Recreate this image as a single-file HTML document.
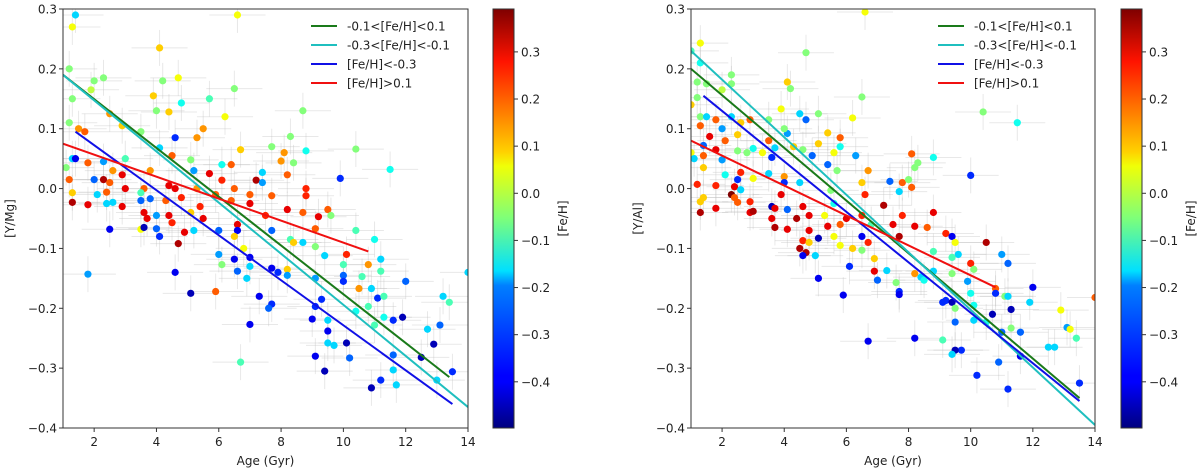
<!DOCTYPE html>
<html><head><meta charset="utf-8"><style>
html,body{margin:0;padding:0;background:#fff;}
svg{display:block;font-family:"DejaVu Sans","Liberation Sans",sans-serif;}
</style></head><body>
<svg id="fig" width="1200" height="476" viewBox="0 0 1200 476" xmlns="http://www.w3.org/2000/svg">
<defs>
<linearGradient id="jet" x1="0" y1="1" x2="0" y2="0">
<stop offset="0" stop-color="#00007f"/><stop offset="0.11" stop-color="#0000ff"/><stop offset="0.125" stop-color="#0000ff"/>
<stop offset="0.34" stop-color="#007fff"/><stop offset="0.375" stop-color="#00e0ff"/><stop offset="0.5" stop-color="#7dff7a"/>
<stop offset="0.625" stop-color="#f0ff07"/><stop offset="0.66" stop-color="#ffd000"/><stop offset="0.875" stop-color="#ff1300"/><stop offset="1" stop-color="#7f0000"/>
</linearGradient>
</defs>
</svg>
<script>
const yTicks=[0.3,0.2,0.1,0.0,-0.1,-0.2,-0.3,-0.4];
const xTicks=[2,4,6,8,10,12,14];
const cbTicks=[0.3,0.2,0.1,0.0,-0.1,-0.2,-0.3,-0.4];
const legendLabels=["-0.1<[Fe/H]<0.1","-0.3<[Fe/H]<-0.1","[Fe/H]<-0.3","[Fe/H]>0.1"];
const legendColors=["#1a7a1a","#1fbfbf","#1010e6","#f01010"];
const mgLines=[[1,0.19,13.4,-0.315],[1,0.19,14,-0.365],[1.4,0.095,13.5,-0.36],[1,0.075,10.8,-0.105]];
const alLines=[[1,0.2,13.5,-0.35],[1,0.23,14,-0.395],[1.4,0.155,13.5,-0.355],[1,0.08,10.8,-0.165]];
const mgAge=[1.4,1.3,6.6,4.1,1.2,2.0,2.3,1.9,4.2,4.7,3.9,6.5,1.3,5.7,4.8,2.5,4.0,4.4,6.2,8.7,1.5,1.2,1.7,2.9,5.5,3.5,4.6,5.3,8.3,7.7,4.1,6.7,8.1,10.4,8.8,1.3,1.4,2.3,3.0,4.5,5.1,8.0,6.4,8.4,11.5,1.1,1.8,2.6,5.2,6.1,7.4,8.2,9.9,1.2,2.0,2.3,2.9,3.8,5.7,6.1,7.2,7.4,2.5,3.0,3.6,4.4,5.3,6.5,8.8,1.3,2.1,2.4,3.5,4.6,5.9,7.0,7.7,8.8,1.3,1.8,2.4,2.6,2.9,3.5,3.8,4.3,4.8,5.4,6.4,7.0,8.2,8.7,9.5,3.6,4.0,4.4,5.1,5.5,6.6,7.5,9.2,9.6,3.7,4.5,3.5,3.6,4.0,2.5,5.2,6.0,6.6,7.7,9.1,10.4,4.1,4.9,6.5,8.3,4.7,8.7,11.0,6.8,8.4,9.1,6.0,6.5,7.0,9.4,10.1,11.2,6.1,7.7,10.0,10.8,4.6,6.6,7.0,8.2,1.8,7.9,8.2,9.1,10.0,6.9,14.0,10.0,12.0,11.2,10.6,10.5,10.9,5.9,5.1,7.3,9.3,11.1,11.3,13.2,13.4,7.7,7.6,9.1,10.8,10.4,7.0,9.0,9.5,11.3,11.6,11.9,11.0,12.7,13.1,9.5,9.5,9.7,10.1,6.7,9.1,10.2,11.6,12.5,12.9,9.4,11.6,13.5,11.2,13.0,10.9,11.7];
const mgVal=[0.29,0.27,0.29,0.235,0.2,0.18,0.185,0.165,0.18,0.185,0.155,0.167,0.15,0.15,0.143,0.125,0.13,0.128,0.12,0.13,0.1,0.11,0.095,0.105,0.1,0.095,0.085,0.085,0.087,0.07,0.068,0.065,0.06,0.066,0.063,0.05,0.05,0.045,0.05,0.055,0.048,0.046,0.04,0.043,0.032,0.035,0.043,0.03,0.03,0.04,0.027,0.023,0.017,0.015,0.015,0.015,0.023,0.03,0.025,0.014,0.014,0.01,0.01,0.0,0.0,0.005,0.0,0.0,0.0,-0.007,-0.01,-0.006,-0.007,0.0,-0.01,-0.01,-0.012,-0.012,-0.023,-0.027,-0.025,-0.023,-0.03,-0.02,-0.017,-0.02,-0.015,-0.03,-0.02,-0.025,-0.035,-0.04,-0.035,-0.04,-0.045,-0.045,-0.04,-0.05,-0.06,-0.045,-0.047,-0.045,-0.05,-0.057,-0.068,-0.065,-0.067,-0.068,-0.07,-0.07,-0.07,-0.07,-0.067,-0.07,-0.08,-0.073,-0.08,-0.085,-0.092,-0.09,-0.085,-0.1,-0.09,-0.097,-0.11,-0.118,-0.115,-0.112,-0.11,-0.118,-0.127,-0.133,-0.127,-0.127,-0.14,-0.138,-0.13,-0.135,-0.143,-0.14,-0.145,-0.15,-0.145,-0.15,-0.14,-0.155,-0.155,-0.138,-0.147,-0.167,-0.167,-0.172,-0.175,-0.18,-0.185,-0.183,-0.18,-0.18,-0.19,-0.193,-0.2,-0.197,-0.197,-0.205,-0.227,-0.218,-0.22,-0.215,-0.22,-0.215,-0.228,-0.235,-0.228,-0.238,-0.258,-0.262,-0.258,-0.29,-0.28,-0.283,-0.278,-0.282,-0.26,-0.305,-0.303,-0.306,-0.32,-0.32,-0.333,-0.328];
const mgFeh=[-0.2,0.05,0.05,0.1,-0.05,-0.05,-0.05,0,-0.05,0.05,0.1,-0.05,-0.05,-0.1,-0.15,0.15,-0.05,0.1,0.05,-0.05,0.15,-0.05,0.2,0.1,0.15,-0.05,-0.35,0.15,-0.05,-0.05,-0.2,0.1,0.15,-0.05,-0.15,-0.2,-0.4,-0.25,-0.1,0.2,-0.05,0.15,0.2,-0.05,-0.15,-0.05,0.2,0.15,-0.25,-0.15,-0.2,0.2,-0.35,0.2,-0.3,0.35,0.3,0.15,0.3,0.25,0.35,-0.25,0.2,0.3,0.2,0.3,0.15,0.2,0.25,0.1,-0.2,0.2,-0.1,0.3,0.2,0.2,0.2,0.25,0.35,0.3,-0.2,-0.2,0.3,-0.3,-0.3,0.2,0.25,0.25,0.2,0.3,0.3,0.2,0.2,0.3,-0.25,0.3,0.1,0.3,0.3,0.25,0.3,-0.05,0.3,0.25,0.05,-0.45,-0.3,-0.4,-0.2,-0.3,-0.4,-0.3,0.2,-0.1,-0.35,0.3,0.1,-0.1,0.35,-0.2,-0.15,0.05,0.1,-0.05,-0.25,-0.4,-0.4,-0.2,0.25,-0.2,-0.05,-0.4,-0.1,0.15,-0.4,-0.3,-0.2,0.1,-0.25,-0.35,-0.25,-0.25,-0.3,-0.2,-0.2,-0.35,-0.3,-0.1,-0.1,0.15,-0.2,0.2,-0.45,-0.4,-0.35,-0.35,-0.1,-0.2,-0.1,-0.35,-0.3,-0.35,-0.1,-0.15,-0.4,-0.4,-0.2,-0.15,-0.35,-0.45,-0.1,-0.2,-0.3,-0.4,-0.2,-0.2,-0.45,-0.1,-0.4,-0.3,-0.3,-0.45,-0.45,-0.45,-0.2,-0.35,-0.35,-0.2,-0.45,-0.2];
const alAge=[1.0,1.3,6.6,4.7,1.3,1.2,1.5,2.3,2.3,2.0,4.1,4.2,1.2,6.5,10.4,3.9,4.5,4.7,5.1,6.2,11.5,1.0,1.3,1.5,2.0,1.8,2.3,2.6,2.9,3.5,4.1,4.0,5.4,1.3,1.6,2.1,2.5,3.0,3.5,4.3,4.6,5.1,5.8,5.8,1.4,1.0,1.1,1.4,1.8,2.5,2.8,3.3,3.6,3.7,4.9,5.6,6.3,8.8,1.4,2.0,3.5,4.0,5.4,5.7,6.7,8.1,8.3,8.2,2.1,2.6,2.5,3.0,4.5,6.5,7.4,7.8,8.0,10.0,1.2,1.8,2.4,2.6,4.0,5.5,7.7,8.1,2.3,2.4,1.3,1.4,2.5,2.9,3.9,4.6,5.6,6.6,7.2,1.3,1.8,2.9,3.0,3.6,3.7,4.1,4.8,5.3,6.0,6.5,7.8,8.8,3.6,4.4,5.4,5.8,6.8,7.5,8.2,8.6,3.7,4.1,4.8,5.1,5.6,6.5,6.7,7.7,9.2,9.4,4.6,4.8,5.8,6.2,6.5,9.5,10.5,4.5,4.7,5.0,4.6,6.9,8.8,9.6,9.4,11.0,11.2,10.0,10.1,6.1,7.3,6.9,8.2,8.4,9.4,8.8,5.1,7.0,7.6,8.5,9.9,12.0,7.7,7.7,10.0,10.8,10.8,11.1,11.2,14.0,5.9,9.1,9.2,9.4,11.9,9.5,10.1,11.3,12.9,10.7,10.1,9.5,10.5,11.3,11.0,11.6,13.1,13.2,8.2,9.1,13.4,6.7,12.5,12.7,9.7,9.5,9.4,11.6,10.9,10.2,11.2,13.5];
const alVal=[0.23,0.243,0.295,0.227,0.21,0.178,0.175,0.19,0.175,0.165,0.178,0.167,0.152,0.153,0.128,0.133,0.125,0.115,0.125,0.118,0.11,0.14,0.12,0.12,0.1,0.115,0.12,0.11,0.115,0.115,0.092,0.1,0.093,0.105,0.087,0.08,0.09,0.067,0.08,0.07,0.065,0.075,0.085,0.07,0.072,0.06,0.05,0.055,0.065,0.063,0.06,0.06,0.052,0.068,0.055,0.06,0.055,0.052,0.035,0.048,0.025,0.02,0.04,0.03,0.03,0.058,0.043,0.035,0.023,0.027,0.015,0.017,0.01,0.01,0.012,0.01,0.015,0.022,0.007,0.005,0.003,-0.002,0.01,-0.003,-0.005,0.002,-0.01,-0.015,-0.022,-0.015,-0.023,-0.022,-0.01,-0.03,-0.025,-0.01,-0.028,-0.04,-0.033,-0.04,-0.038,-0.03,-0.033,-0.035,-0.045,-0.045,-0.05,-0.045,-0.045,-0.04,-0.05,-0.05,-0.063,-0.06,-0.06,-0.06,-0.063,-0.065,-0.065,-0.068,-0.07,-0.083,-0.08,-0.08,-0.09,-0.08,-0.075,-0.08,-0.087,-0.09,-0.095,-0.1,-0.103,-0.09,-0.09,-0.1,-0.107,-0.112,-0.112,-0.117,-0.105,-0.11,-0.115,-0.11,-0.125,-0.125,-0.135,-0.13,-0.137,-0.138,-0.142,-0.148,-0.142,-0.138,-0.15,-0.153,-0.157,-0.153,-0.155,-0.165,-0.172,-0.177,-0.175,-0.167,-0.175,-0.18,-0.18,-0.182,-0.178,-0.19,-0.187,-0.19,-0.19,-0.2,-0.195,-0.202,-0.203,-0.21,-0.22,-0.223,-0.223,-0.233,-0.24,-0.24,-0.232,-0.235,-0.25,-0.253,-0.25,-0.255,-0.265,-0.265,-0.27,-0.27,-0.277,-0.28,-0.29,-0.312,-0.335,-0.325];
const alFeh=[-0.1,0.05,0.05,-0.05,-0.15,-0.05,-0.05,-0.05,-0.05,0,0.1,-0.05,-0.05,-0.05,-0.05,0.05,-0.2,-0.3,-0.05,0.05,-0.15,0.1,-0.05,-0.2,-0.25,0.2,-0.2,0.1,0.2,-0.05,-0.25,-0.05,0.1,0.2,0.3,0.2,0.1,-0.15,0.2,0.1,-0.05,0.1,0.2,-0.15,-0.3,0.05,-0.2,0.2,0.3,-0.05,-0.05,0.05,-0.35,-0.2,-0.3,0.05,-0.25,-0.15,0.1,-0.25,-0.2,0.15,-0.3,-0.05,0.15,0.2,-0.05,-0.05,-0.15,0.25,-0.35,0.05,-0.2,0.1,-0.3,0.2,-0.05,-0.35,0.25,0.25,0.3,-0.2,-0.35,-0.05,-0.2,0.2,0.4,0.2,0.1,0.1,0.2,0.25,0.3,0.3,-0.15,0.25,0.35,0.35,0.3,0.3,0.35,-0.45,0.3,-0.3,0.3,0.05,0.3,0.25,0.25,0.3,0.3,0.35,0.3,0.2,-0.1,0.3,0.3,0.2,0.35,0.3,0.3,-0.45,0.05,-0.4,0.25,0.35,0.25,-0.4,0.25,0.1,0.05,0.1,-0.05,0.05,0.35,0.35,0.35,-0.2,-0.4,0.1,-0.1,-0.2,-0.1,-0.25,-0.3,0.25,-0.05,-0.35,-0.2,0.3,0.15,-0.2,-0.05,-0.2,-0.4,-0.3,-0.05,-0.15,-0.25,-0.4,-0.35,-0.4,-0.15,0.2,-0.35,-0.05,-0.2,0.2,-0.4,-0.35,-0.35,-0.45,-0.2,-0.05,-0.15,-0.45,0.05,-0.45,-0.2,-0.3,-0.15,-0.05,-0.3,-0.3,-0.25,0.05,-0.4,-0.1,-0.1,-0.4,-0.2,-0.2,-0.35,-0.45,-0.2,-0.4,-0.3,-0.35,-0.35];

const NS="http://www.w3.org/2000/svg";
const svg=document.getElementById('fig');
function mk(tag,attrs,parent){const e=document.createElementNS(NS,tag);for(const k in attrs)e.setAttribute(k,attrs[k]);(parent||svg).appendChild(e);return e;}
function fmt(v){const s=Math.abs(v).toFixed(1);return v<-1e-9?"\u2212"+s:s;}
const CMIN=-0.498,CMAX=0.391;
function jet(v){let t=(v-CMIN)/(CMAX-CMIN);if(!isFinite(t))t=0.17;t=Math.max(0,Math.min(1,t));
 const f=(x)=>Math.max(0,Math.min(1,x));
 const r=f(1.5-Math.abs(4*t-3)),g=f(1.5-Math.abs(4*t-2)),b=f(1.5-Math.abs(4*t-1));
 return `rgb(${Math.round(r*255)},${Math.round(g*255)},${Math.round(b*255)})`;}

function panel(cfg){
 const L=cfg.left,R=cfg.right,T=9,B=428;
 const sx=v=>L+(v-1)/13*(R-L), sy=v=>T+(0.3-v)/0.7*(B-T);
 const g=mk('g',{});
 
 
 const clip=mk('clipPath',{id:cfg.name+'-clip'},g);
 mk('rect',{x:L,y:T,width:R-L,height:B-T},clip);
 const pts=mk('g',{'clip-path':`url(#${cfg.name}-clip)`},g);
 
 
 const eb=mk('g',{stroke:'rgba(190,190,190,0.35)','stroke-width':1},pts);
 
 
 for(let i=0;i<cfg.age.length;i++){
  const x=sx(cfg.age[i]),y=sy(cfg.val[i]);
  mk('line',{x1:sx(cfg.age[i]-0.9),x2:sx(cfg.age[i]+0.9),y1:y,y2:y},eb);
  mk('line',{x1:x,x2:x,y1:sy(cfg.val[i]+0.03),y2:sy(cfg.val[i]-0.03)},eb);
 }
 for(let i=0;i<cfg.age.length;i++){
  const fe=(cfg.feh[i]===undefined)?-0.35:cfg.feh[i];
  const c=mk('circle',{cx:sx(cfg.age[i]),cy:sy(cfg.val[i]),r:3.6,fill:jet(fe)},pts);
  
  
 }
 cfg.lines.forEach((ln,k)=>{
  const l=mk('line',{x1:sx(ln[0]),y1:sy(ln[1]),x2:sx(ln[2]),y2:sy(ln[3]),stroke:legendColors[k],'stroke-width':2},pts);
  
  
 });
 mk('rect',{x:L,y:T,width:R-L,height:B-T,fill:'none',stroke:'#333','stroke-width':1},g);
 yTicks.forEach(v=>{const y=sy(v);
  mk('line',{x1:L-4,x2:L,y1:y,y2:y,stroke:'#333'},g);
  const t=mk('text',{x:L-6,y:y+4.5,'text-anchor':'end','font-size':12,fill:'#222'},g);t.textContent=fmt(v);
  
  });
 xTicks.forEach(v=>{const x=sx(v);
  mk('line',{x1:x,x2:x,y1:B,y2:B+4,stroke:'#333'},g);
  const t=mk('text',{x:x,y:B+18,'text-anchor':'middle','font-size':12,fill:'#222'},g);t.textContent=String(v);
  
  });
 const xt=mk('text',{x:(L+R)/2,y:465,'text-anchor':'middle','font-size':12,fill:'#222'},g);xt.textContent="Age (Gyr)";
 
 
 const yx=cfg.ytx,yy=(T+B)/2;
 const yt=mk('text',{x:yx,y:yy,'text-anchor':'middle','font-size':12,fill:'#222',transform:`rotate(-90 ${yx} ${yy})`},g);yt.textContent=cfg.ytitle;
 
 
 const lg=mk('g',{},g);
 
 
 legendLabels.forEach((lab,k)=>{const y=26+k*19;
  mk('line',{x1:cfg.legx,x2:cfg.legx+26,y1:y,y2:y,stroke:legendColors[k],'stroke-width':2},lg);
  const t=mk('text',{x:cfg.legx+36,y:y+4.5,'font-size':12,fill:'#222'},lg);t.textContent=lab;
  
  });
 const cb=mk('g',{},g);
 
 
 const cy=v=>T+(CMAX-v)/(CMAX-CMIN)*(B-T);
 mk('rect',{x:cfg.cbx,y:T,width:21,height:B-T,fill:'url(#jet)',stroke:'#333','stroke-width':1},cb);
 cbTicks.forEach(v=>{const y=cy(v);
  mk('line',{x1:cfg.cbx+21,x2:cfg.cbx+25,y1:y,y2:y,stroke:'#333'},cb);
  const t=mk('text',{x:cfg.cbx+28,y:y+4.5,'font-size':12,fill:'#222'},cb);t.textContent=fmt(v);
  
  });
 const cx=cfg.cbx+74;
 const ct=mk('text',{x:cx,y:yy,'text-anchor':'middle','font-size':12,fill:'#222',transform:`rotate(-90 ${cx} ${yy})`},cb);ct.textContent="[Fe/H]";
 
 
}
panel({name:'y-mg',left:63,right:468,age:mgAge,val:mgVal,feh:mgFeh,lines:mgLines,ytitle:'[Y/Mg]',ytx:14,legx:311,cbx:493});
panel({name:'y-al',left:691,right:1095,age:alAge,val:alVal,feh:alFeh,lines:alLines,ytitle:'[Y/Al]',ytx:642,legx:938,cbx:1121});
</script>
</body></html>
